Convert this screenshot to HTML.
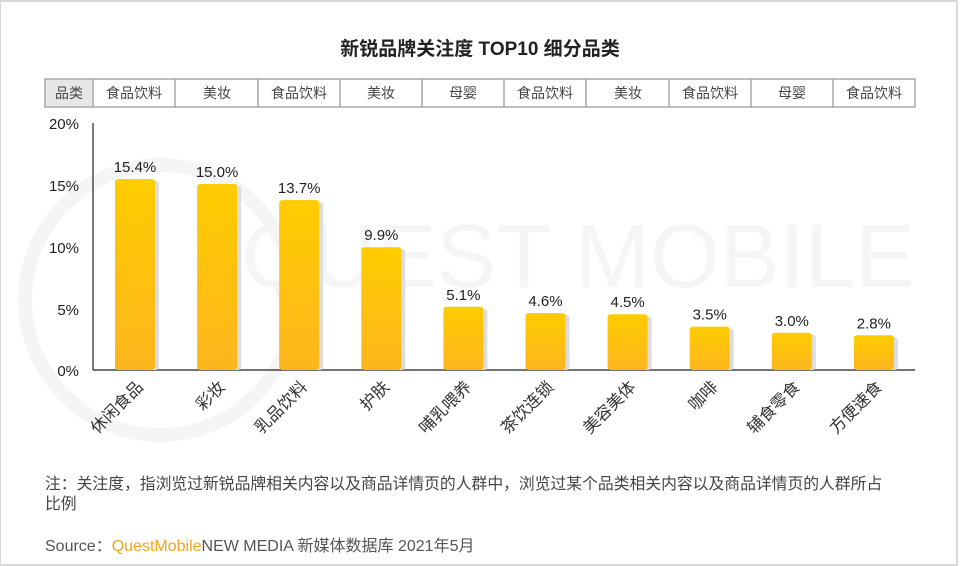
<!DOCTYPE html>
<html><head><meta charset="utf-8"><style>
body{margin:0;width:960px;height:566px;background:#fff;position:relative;overflow:hidden;font-family:"Liberation Sans","Noto Sans CJK SC",sans-serif;}
.frame{position:absolute;left:0;top:0;width:955px;height:562px;border:2px solid #d8d8d8;border-left-width:1px;}
.abs{position:absolute;}
</style></head><body>
<div class="frame"></div>
<svg class="abs" style="left:0;top:0" width="960" height="566">
<text x="915" y="287" text-anchor="end" font-family="Liberation Sans" font-size="90" fill="#f5f5f5">QUEST MOBILE</text>
<circle cx="160" cy="300" r="135" fill="none" stroke="#f5f5f5" stroke-width="14"/>
<defs><linearGradient id="g" x1="0" y1="0" x2="0" y2="1"><stop offset="0" stop-color="#ffcc00"/><stop offset="1" stop-color="#fdb61e"/></linearGradient></defs>
<g font-family="Liberation Sans,Noto Sans CJK SC,sans-serif" font-size="14" fill="#333">
<rect x="45" y="79" width="48" height="28" fill="#e6e6e6"/>
<rect x="45" y="79" width="870" height="28" fill="none" stroke="#a8a8a8" stroke-width="1.5"/>
<g stroke="#a8a8a8" stroke-width="1.5">
<line x1="93" y1="79" x2="93" y2="107"/><line x1="175" y1="79" x2="175" y2="107"/><line x1="258" y1="79" x2="258" y2="107"/><line x1="340" y1="79" x2="340" y2="107"/><line x1="422" y1="79" x2="422" y2="107"/><line x1="504" y1="79" x2="504" y2="107"/><line x1="586" y1="79" x2="586" y2="107"/><line x1="669" y1="79" x2="669" y2="107"/><line x1="751" y1="79" x2="751" y2="107"/><line x1="833" y1="79" x2="833" y2="107"/>
</g>
<g font-size="14" text-anchor="middle" fill="#444">
<text x="69" y="98">品类</text><text x="134" y="98">食品饮料</text><text x="217" y="98">美妆</text><text x="299" y="98">食品饮料</text><text x="381" y="98">美妆</text><text x="463" y="98">母婴</text><text x="545" y="98">食品饮料</text><text x="628" y="98">美妆</text><text x="710" y="98">食品饮料</text><text x="792" y="98">母婴</text><text x="874" y="98">食品饮料</text>
</g>
<g font-size="15" text-anchor="end" fill="#222">
<text x="79" y="129">20%</text><text x="79" y="191">15%</text><text x="79" y="253">10%</text><text x="79" y="315">5%</text><text x="79" y="376">0%</text>
</g>
<line x1="93" y1="123" x2="93" y2="370" stroke="#222" stroke-width="1.2"/>
<line x1="93" y1="370" x2="915" y2="370" stroke="#222" stroke-width="1.2"/>
<g id="bars"></g>
</g>
</svg>
<div class="abs" style="left:0;width:960px;top:34px;text-align:center;font-size:19px;font-weight:bold;color:#222;">新锐品牌关注度 TOP10 细分品类</div>
<div class="abs" style="left:45px;top:475px;width:852px;font-size:15.8px;line-height:20px;color:#444;">注：关注度，指浏览过新锐品牌相关内容以及商品详情页的人群中，浏览过某个品类相关内容以及商品详情页的人群所占比例</div>
<div class="abs" style="left:45px;top:532px;font-size:16px;color:#555;">Source：<span style="color:#f7a21b">QuestMobile</span>NEW MEDIA 新媒体数据库 2021年5月</div>
<script>
var v=[15.4,15.0,13.7,9.9,5.1,4.6,4.5,3.5,3.0,2.8],n=["休闲食品","彩妆","乳品饮料","护肤","哺乳喂养","茶饮连锁","美容美体","咖啡","辅食零食","方便速食"],s="";
for(var i=0;i<10;i++){var x=115+82.1*i,h=v[i]*12.4,y=370-h;
s+='<rect x="'+(x+4)+'" y="'+(y+2)+'" width="40" height="'+(h-2)+'" fill="#ddd" rx="3"/>';
s+='<rect x="'+x+'" y="'+y+'" width="40" height="'+h+'" fill="url(#g)" rx="3"/>';
s+='<text x="'+(x+20)+'" y="'+(y-7)+'" text-anchor="middle" font-size="15" fill="#222">'+v[i].toFixed(1)+'%</text>';
s+='<text transform="translate('+(x+29)+',388) rotate(-45)" text-anchor="end" font-size="16.5" fill="#333">'+n[i]+'</text>';}
document.getElementById("bars").innerHTML=s;
</script>
</body></html>
